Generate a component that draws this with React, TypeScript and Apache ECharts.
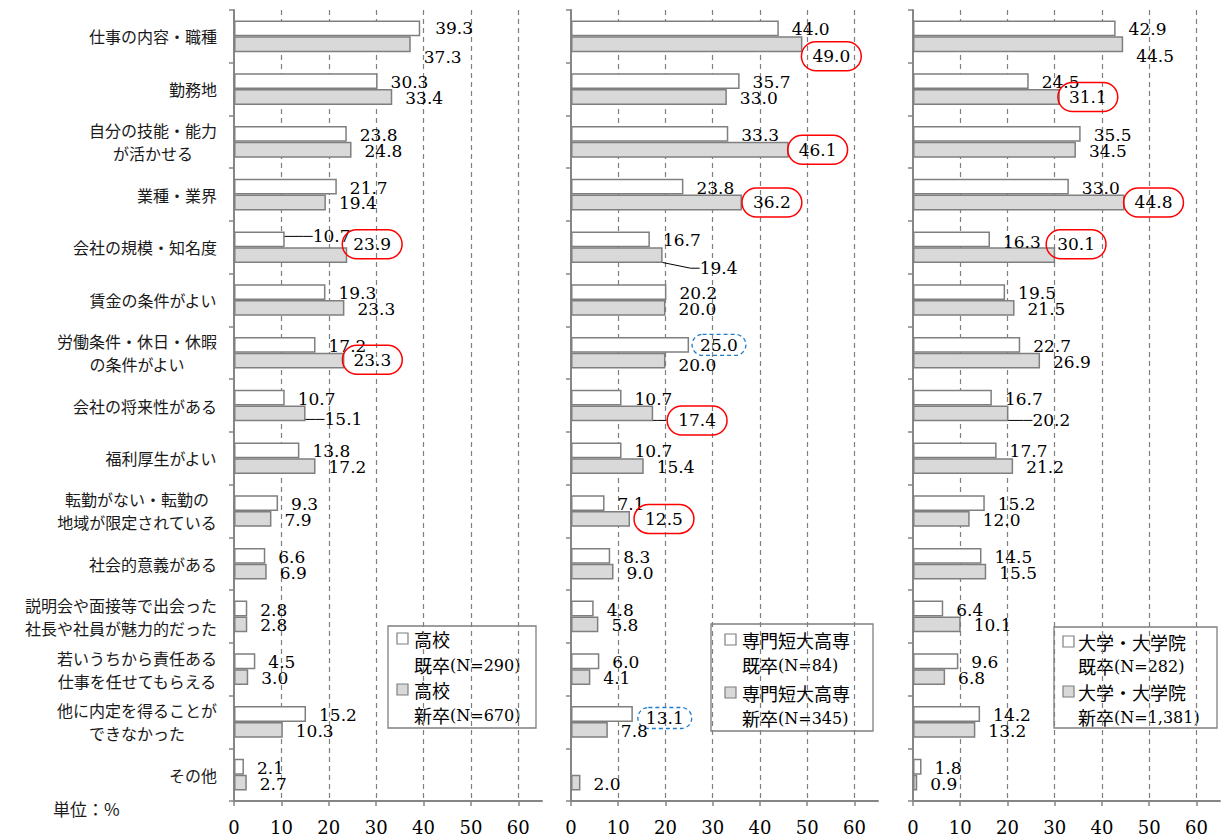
import React, { useEffect, useRef } from 'react';
import * as echarts from 'echarts';

// ---------- data ----------
const categories = [
  '仕事の内容・職種',
  '勤務地',
  '自分の技能・能力\nが活かせる',
  '業種・業界',
  '会社の規模・知名度',
  '賃金の条件がよい',
  '労働条件・休日・休暇\nの条件がよい',
  '会社の将来性がある',
  '福利厚生がよい',
  '転勤がない・転勤の\n地域が限定されている',
  '社会的意義がある',
  '説明会や面接等で出会った\n社長や社員が魅力的だった',
  '若いうちから責任ある\n仕事を任せてもらえる',
  '他に内定を得ることが\nできなかった',
  'その他',
];

const highSchoolPrev = [39.3, 30.3, 23.8, 21.7, 10.7, 19.3, 17.2, 10.7, 13.8, 9.3, 6.6, 2.8, 4.5, 15.2, 2.1];
const highSchoolNew = [37.3, 33.4, 24.8, 19.4, 23.9, 23.3, 23.3, 15.1, 17.2, 7.9, 6.9, 2.8, 3.0, 10.3, 2.7];
const vocationalPrev = [44.0, 35.7, 33.3, 23.8, 16.7, 20.2, 25.0, 10.7, 10.7, 7.1, 8.3, 4.8, 6.0, 13.1, null];
const vocationalNew = [49.0, 33.0, 46.1, 36.2, 19.4, 20.0, 20.0, 17.4, 15.4, 12.5, 9.0, 5.8, 4.1, 7.8, 2.0];
const universityPrev = [42.9, 24.5, 35.5, 33.0, 16.3, 19.5, 22.7, 16.7, 17.7, 15.2, 14.5, 6.4, 9.6, 14.2, 1.8];
const universityNew = [44.5, 31.1, 34.5, 44.8, 30.1, 21.5, 26.9, 20.2, 21.2, 12.0, 15.5, 10.1, 6.8, 13.2, 0.9];

const schoolNames = ['高校', '専門短大高専', '大学・大学院'];
const cohortNames = ['既卒', '新卒'];
const sampleSizes = [['290', '670'], ['84', '345'], ['282', '1,381']];
const xTicks = [0, 10, 20, 30, 40, 50, 60];
const unitText = '単位：%';

const panelValues = [
  [highSchoolPrev, highSchoolNew],
  [vocationalPrev, vocationalNew],
  [universityPrev, universityNew],
];

// ---------- annotations (label nudges, circles, leader lines) ----------
// [panel, series, index, dx, dy]
const labelNudges: number[][] = [
  [0, 0, 0, 2, 0],
  [0, 1, 0, 0, 13],
  [0, 0, 4, 15, -3],
  [0, 1, 4, -18, -11],
  [0, 1, 6, -15, -1],
  [0, 1, 7, 6, 6],
  [1, 1, 0, -14, 12],
  [1, 1, 2, -14, 0],
  [1, 1, 3, -13, 0],
  [1, 1, 4, 24, 13],
  [1, 0, 6, -10, 0],
  [1, 1, 6, 0, 4],
  [1, 1, 7, 1, 7],
  [1, 1, 9, -9, 0],
  [1, 0, 13, -8, 4],
  [2, 1, 0, 0, 12],
  [2, 1, 1, -15, 0],
  [2, 1, 3, -14, 0],
  [2, 0, 4, 0, 3],
  [2, 1, 4, -22, -11],
  [2, 1, 7, 11, 7],
];
// [panel, series, index, kind]
const circledLabels: [number, number, number, string][] = [
  [0, 1, 4, 'red'],
  [0, 1, 6, 'red'],
  [1, 1, 0, 'red'],
  [1, 1, 2, 'red'],
  [1, 1, 3, 'red'],
  [1, 1, 7, 'red'],
  [1, 1, 9, 'red'],
  [1, 0, 6, 'blue'],
  [1, 0, 13, 'blue'],
  [2, 1, 1, 'red'],
  [2, 1, 3, 'red'],
  [2, 1, 4, 'red'],
];
// [panel, series, index]
const leaderLines: number[][] = [
  [0, 0, 4],
  [0, 1, 7],
  [1, 1, 4],
  [1, 1, 7],
  [2, 1, 7],
];

// ---------- layout ----------
const GRID_TOP = 10;
const GRID_HEIGHT = 791;
const panelLayout = [
  { left: 234, width: 308 },
  { left: 571, width: 307 },
  { left: 913, width: 307 },
];
const legendLayout = [
  { x: 388, y: 626, w: 148, h: 102, iconX: 9, textX: 26, rows: [13, 39, 64, 89] },
  { x: 711, y: 624, w: 162, h: 107, iconX: 14, textX: 31, rows: [16, 41, 69, 94] },
  { x: 1054, y: 627, w: 163, h: 101, iconX: 9, textX: 24, rows: [15, 39, 65, 90] },
];

const FONT_JP = '"Noto Sans CJK JP", sans-serif';
const FONT_NUM = '"DejaVu Serif", serif';
const AXIS_COLOR = '#868686';
const BAR_BORDER = '#7f7f7f';
const barFills = ['#ffffff', '#d9d9d9'];

function findNudge(p: number, s: number, i: number) {
  const n = labelNudges.find((a) => a[0] === p && a[1] === s && a[2] === i);
  return n ? { dx: n[3], dy: n[4] } : { dx: 0, dy: 1 };
}

function buildItem(p: number, s: number, i: number, v: number | null) {
  if (v == null) return { value: '-' };
  const item: any = { value: v };
  const c = circledLabels.find((a) => a[0] === p && a[1] === s && a[2] === i);
  if (c) {
    const red = c[3] === 'red';
    item.label = red
      ? { borderColor: '#ff0000', borderWidth: 1.5, borderRadius: 16, padding: [6, 11] }
      : { borderColor: '#1f7bc9', borderWidth: 1.3, borderType: [4, 3], borderRadius: 12, padding: [2, 8] };
  }
  if (leaderLines.some((a) => a[0] === p && a[1] === s && a[2] === i)) {
    item.labelLine = { show: true, length2: 9, lineStyle: { color: '#000', width: 1 } };
  }
  return item;
}

export default function App() {
  const ref = useRef<HTMLDivElement>(null);

  useEffect(() => {
    document.body.style.margin = '0';
    if (!ref.current) return;
    const chart = echarts.init(ref.current, undefined, { renderer: 'svg' });

    const grid = panelLayout.map((pl) => ({
      left: pl.left,
      width: pl.width,
      top: GRID_TOP,
      height: GRID_HEIGHT,
      containLabel: false,
    }));

    const xAxis = panelLayout.map((_, p) => ({
      type: 'value',
      gridIndex: p,
      min: 0,
      max: 65,
      interval: 10,
      axisLine: { show: true, lineStyle: { color: AXIS_COLOR, width: 2 } },
      axisTick: { show: true, length: 5, customValues: xTicks, lineStyle: { color: AXIS_COLOR, width: 1.5 } },
      axisLabel: {
        customValues: xTicks,
        margin: 17,
        fontFamily: FONT_NUM,
        fontSize: 18,
        color: '#000',
      },
      splitLine: {
        show: true,
        showMinLine: false,
        lineStyle: { color: '#7f7f7f', width: 1.2, type: [5, 4] },
      },
    }));

    const yAxis = panelLayout.map((_, p) => ({
      type: 'category',
      gridIndex: p,
      data: categories,
      inverse: true,
      axisLine: { show: true, lineStyle: { color: AXIS_COLOR, width: 2 } },
      axisTick: { show: true, length: 5, lineStyle: { color: AXIS_COLOR, width: 1.5 } },
      axisLabel: {
        show: p === 0,
        interval: 0,
        margin: 17,
        align: 'right',
        formatter: (v: string) => v.split('\n').map((l) => `{c|${l}}`).join('\n'),
        rich: {
          c: { align: 'center', fontSize: 16, lineHeight: 23, fontFamily: FONT_JP, color: '#1a1a1a' },
        },
      },
      splitLine: { show: false },
    }));

    const series: any[] = [];
    panelValues.forEach((pair, p) => {
      pair.forEach((vals, s) => {
        series.push({
          type: 'bar',
          name: `${schoolNames[p]}${cohortNames[s]}`,
          xAxisIndex: p,
          yAxisIndex: p,
          barGap: '0%',
          barCategoryGap: '40%',
          data: vals.map((v, i) => buildItem(p, s, i, v)),
          itemStyle: { color: barFills[s], borderColor: BAR_BORDER, borderWidth: 1.5 },
          label: {
            show: true,
            position: 'right',
            distance: 13,
            fontFamily: FONT_NUM,
            fontSize: 17,
            lineHeight: 17,
            color: '#000',
            formatter: (prm: any) => Number(prm.value).toFixed(1),
          },
          labelLayout: (prm: any) => findNudge(p, s, prm.dataIndex),
        });
      });
    });

    const legendRich = {
      j: { fontSize: 18, fontFamily: FONT_JP, color: '#000' },
      n: { fontSize: 16, fontFamily: FONT_NUM, color: '#000' },
    };
    const graphic: any[] = legendLayout.map((lg, p) => {
      const textStyle = (t: string) => ({
        text: t,
        rich: legendRich,
        fill: '#000',
        fontSize: 18,
        fontFamily: FONT_JP,
        align: 'left',
        verticalAlign: 'middle',
      });
      const children: any[] = [
        {
          type: 'rect',
          shape: { x: 0, y: 0, width: lg.w, height: lg.h },
          style: { fill: '#fff', stroke: '#7f7f7f', lineWidth: 1.3 },
        },
      ];
      [0, 1].forEach((s) => {
        const r1 = lg.rows[s * 2];
        const r2 = lg.rows[s * 2 + 1];
        children.push({
          type: 'rect',
          shape: { x: lg.iconX, y: r1 - 6, width: 11, height: 11 },
          style: { fill: barFills[s], stroke: '#7f7f7f', lineWidth: 1.2 },
        });
        children.push({ type: 'text', x: lg.textX, y: r1, style: textStyle(`{j|${schoolNames[p]}}`) });
        children.push({
          type: 'text',
          x: lg.textX,
          y: r2,
          style: textStyle(`{j|${cohortNames[s]}}{n|(N=${sampleSizes[p][s]})}`),
        });
      });
      return { type: 'group', x: lg.x, y: lg.y, z: 100, children };
    });
    graphic.push({
      type: 'text',
      x: 53,
      y: 808,
      z: 100,
      style: { text: unitText, fill: '#1a1a1a', fontSize: 17, fontFamily: FONT_JP, align: 'left', verticalAlign: 'middle' },
    });

    chart.setOption({
      animation: false,
      backgroundColor: '#ffffff',
      textStyle: { fontFamily: FONT_JP },
      grid,
      xAxis,
      yAxis,
      series,
      graphic,
    });

    return () => chart.dispose();
  }, []);

  return <div ref={ref} style={{ width: 1221, height: 839 }} />;
}
